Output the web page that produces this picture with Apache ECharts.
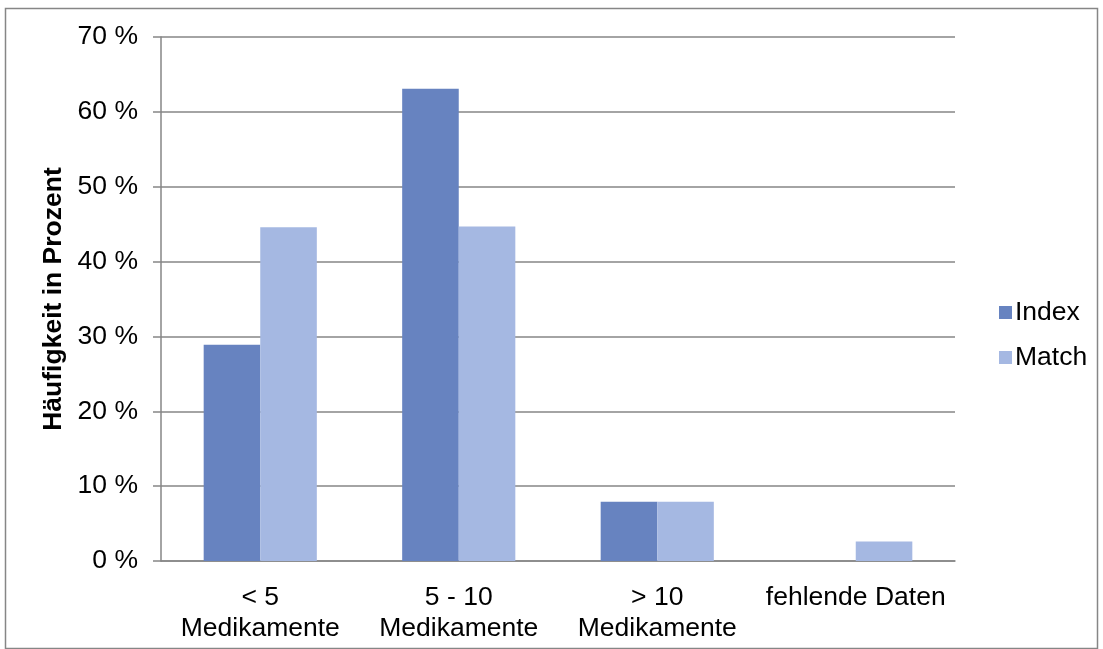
<!DOCTYPE html>
<html><head><meta charset="utf-8">
<script src="https://cdn.jsdelivr.net/npm/echarts@6/dist/echarts.min.js"></script>
<style>html,body{margin:0;padding:0;background:#fff}#c{width:1103px;height:649px}</style>
</head><body><div id="c"></div>
<script>
const categories = ['< 5\nMedikamente', '5 - 10\nMedikamente', '> 10\nMedikamente', 'fehlende Daten'];
const indexValues = [28.9, 63.1, 7.9, 0];
const matchValues = [44.6, 44.7, 7.9, 2.6];
const yTicks = [0, 10, 20, 30, 40, 50, 60, 70];
const font = 'Liberation Sans, Arial, sans-serif';
const chart = echarts.init(document.getElementById('c'));
chart.setOption({
  animation: false,
  backgroundColor: '#fff',
  graphic: [{type: 'rect', shape: {x: 5.5, y: 8.5, width: 1092, height: 640}, style: {fill: 'none', stroke: '#868686', lineWidth: 1.5}}],
  grid: {left: 161, right: 148, top: 37, bottom: 88},
  legend: {
    orient: 'vertical', left: 994, top: 294, itemWidth: 13, itemHeight: 13, itemGap: 18,
    icon: 'rect', textStyle: {fontFamily: font, fontSize: 26.5, color: '#000', padding: [0, 0, 0, -2]},
    data: ['Index', 'Match']
  },
  xAxis: {
    type: 'category', data: categories,
    axisLine: {lineStyle: {color: '#868686', width: 1.5}},
    axisTick: {length: 8, lineStyle: {color: '#868686', width: 1.5}},
    axisLabel: {fontFamily: font, fontSize: 26.5, color: '#000', lineHeight: 31, margin: 21, interval: 0}
  },
  yAxis: {
    type: 'value', min: 0, max: 70, interval: 10,
    name: 'Häufigkeit in Prozent', nameLocation: 'middle', nameGap: 81,
    nameTextStyle: {fontFamily: font, fontSize: 26.5, fontWeight: 'bold', color: '#000'},
    axisLine: {show: true, lineStyle: {color: '#868686', width: 1.5}},
    axisTick: {show: true, length: 8, lineStyle: {color: '#868686', width: 1.5}},
    splitLine: {lineStyle: {color: '#868686', width: 1.5}},
    axisLabel: {fontFamily: font, fontSize: 26.5, color: '#000', margin: 23,
      formatter: v => yTicks.includes(v) ? v + ' %' : ''}
  },
  series: [
    {name: 'Index', type: 'bar', data: indexValues, barGap: '0%', barCategoryGap: '43%', itemStyle: {color: '#6783C0'}},
    {name: 'Match', type: 'bar', data: matchValues, itemStyle: {color: '#A5B8E2'}}
  ]
});
</script></body></html>
